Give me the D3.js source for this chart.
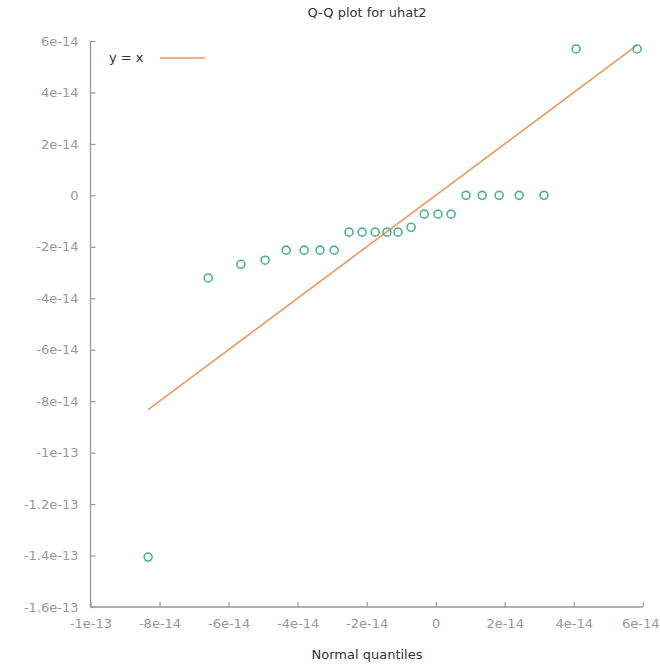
<!DOCTYPE html>
<html><head><meta charset="utf-8">
<script src="https://cdn.jsdelivr.net/npm/d3@7"></script>
<style>body{margin:0;background:#fff}svg{display:block}</style>
</head><body>
<svg id="c" width="660" height="669"></svg>
<script>
const title = "Q-Q plot for uhat2";
const xLabel = "Normal quantiles";
const legendLabel = "y = x";
const xTicks = [-1e-13,-8e-14,-6e-14,-4e-14,-2e-14,0,2e-14,4e-14,6e-14];
const xTickLabels = ["-1e-13","-8e-14","-6e-14","-4e-14","-2e-14","0","2e-14","4e-14","6e-14"];
const yTicks = [6e-14,4e-14,2e-14,0,-2e-14,-4e-14,-6e-14,-8e-14,-1e-13,-1.2e-13,-1.4e-13,-1.6e-13];
const yTickLabels = ["6e-14","4e-14","2e-14","0","-2e-14","-4e-14","-6e-14","-8e-14","-1e-13","-1.2e-13","-1.4e-13","-1.6e-13"];
const normalQuantiles = [-8.33e-14,-6.59e-14,-5.64e-14,-4.94e-14,-4.33e-14,-3.81e-14,-3.35e-14,-2.94e-14,-2.51e-14,-2.13e-14,-1.75e-14,-1.41e-14,-1.09e-14,-0.71e-14,-0.33e-14,0.07e-14,0.45e-14,0.88e-14,1.35e-14,1.84e-14,2.42e-14,3.14e-14,4.07e-14,5.84e-14];
const sampleQuantiles = [-1.406e-13,-3.21e-14,-2.68e-14,-2.52e-14,-2.13e-14,-2.13e-14,-2.13e-14,-2.13e-14,-1.43e-14,-1.43e-14,-1.43e-14,-1.43e-14,-1.43e-14,-1.24e-14,-0.73e-14,-0.73e-14,-0.73e-14,0,0,0,0,0,5.69e-14,5.69e-14];

const svg = d3.select("#c");
const font = "DejaVu Sans, Verdana, sans-serif";
const axisColor = "#999";
const textColor = "#999";
const W = 660;
const x = d3.scaleLinear().domain([-1e-13, 6e-14]).range([90.5, 642.7]);
const y = d3.scaleLinear().domain([-1.6e-13, 6e-14]).range([607, 41]);

// title
svg.append("text").attr("x", 367).attr("y", 17).attr("text-anchor","middle")
  .attr("font-family", font).attr("font-size", 13).attr("fill","#333").text(title);

// axes
const gx = svg.append("g").attr("transform", `translate(0,${y.range()[0]})`)
  .call(d3.axisBottom(x).tickValues(xTicks).tickSize(-5).tickPadding(10)
    .tickFormat((d,i)=>xTickLabels[i]));
const gy = svg.append("g").attr("transform", `translate(${x.range()[0]},0)`)
  .call(d3.axisLeft(y).tickValues(yTicks).tickSize(-5).tickPadding(10)
    .tickFormat((d,i)=>yTickLabels[i]));
[gx, gy].forEach(g => {
  g.select(".domain").attr("stroke", axisColor).attr("stroke-width", 1.3);
  g.selectAll(".tick line").attr("stroke", axisColor).attr("stroke-width", 1.2);
  g.selectAll(".tick text").attr("fill", textColor).attr("font-family", font).attr("font-size", 13);
});
gx.select(".domain").attr("d", `M${x.range()[0]},0H${x.range()[1]}`);
gy.select(".domain").attr("d", `M0,${y.range()[0]}V${y.range()[1]}`);
gx.selectAll(".tick text").attr("dy", "0.85em");
gy.selectAll(".tick text").attr("dx", "-2");
// keep the last x tick label inside the window
gx.selectAll(".tick text").each(function(d) {
  const b = this.getBBox();
  const right = x(d) + b.x + b.width;
  if (right > W - 1) d3.select(this).attr("x", (W - 1) - right);
});

// x label
svg.append("text").attr("x", 367).attr("y", 659).attr("text-anchor","middle")
  .attr("font-family", font).attr("font-size", 13).attr("fill","#333").text(xLabel);

// y = x line
const xmin = d3.min(normalQuantiles), xmax = d3.max(normalQuantiles);
svg.append("line")
  .attr("x1", x(xmin)).attr("y1", y(xmin)).attr("x2", x(xmax)).attr("y2", y(xmax))
  .attr("stroke", "#e99a5e").attr("stroke-width", 1.6);

// points
svg.append("g").selectAll("circle").data(normalQuantiles).join("circle")
  .attr("cx", d => x(d)).attr("cy", (d,i) => y(sampleQuantiles[i])).attr("r", 4)
  .attr("fill", "none").attr("stroke", "#4db391").attr("stroke-width", 1.6);

// legend
svg.append("text").attr("x", 109).attr("y", 62).attr("font-family", font)
  .attr("font-size", 13).attr("fill", "#333").text(legendLabel);
svg.append("line").attr("x1", 160).attr("x2", 205).attr("y1", 58).attr("y2", 58)
  .attr("stroke", "#e99a5e").attr("stroke-width", 1.6);
</script>
</body></html>
